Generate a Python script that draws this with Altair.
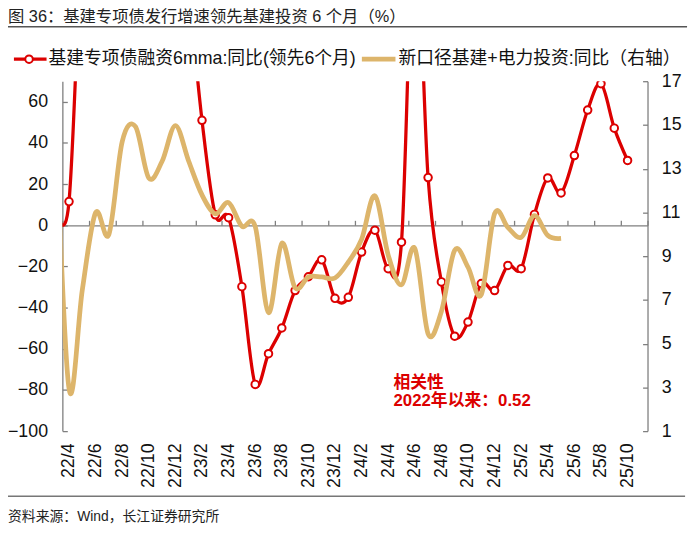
import json
import altair as alt
import pandas as pd

# ---------------- data ----------------
months = ["22/3", "22/4", "22/5", "22/6", "22/7", "22/8", "22/9", "22/10", "22/11", "22/12",
          "23/1", "23/2", "23/3", "23/4", "23/5", "23/6", "23/7", "23/8", "23/9", "23/10",
          "23/11", "23/12", "24/1", "24/2", "24/3", "24/4", "24/5", "24/6", "24/7", "24/8",
          "24/9", "24/10", "24/11", "24/12", "25/1", "25/2", "25/3", "25/4", "25/5", "25/6",
          "25/7", "25/8", "25/9", "25/10"]

# 基建专项债融资6mma:同比(领先6个月), left axis (22/3 .. 25/10)
red_values = [8, 11.5, 150, 260, 300, 290, 260, 240, 210, 180,
              115, 51.0, 5.1, 3.7, -29.8, -77.3, -62.4, -49.9, -31.7, -25.0,
              -16.8, -35.5, -35.0, -13.0, -2.4, -21.1, -8.2, 150, 23.2, -27.5,
              -53.9, -47.0, -28.3, -31.7, -19.5, -21.1, 5.3, 23.0, 15.7, 33.9,
              56.0, 68.8, 47.2, 31.5]

# 新口径基建+电力投资:同比, right axis (22/3 .. 25/5)
gold_values = [15.5, 2.95, 7.46, 10.99, 10.0, 14.24, 14.92, 12.57, 13.34, 14.97,
               13.34, 11.8, 10.94, 11.45, 10.37, 10.36, 6.42, 9.59, 7.55, 8.05,
               8.05, 8.0, 8.73, 9.77, 11.76, 9.05, 7.69, 9.36, 5.45, 6.47,
               9.27, 8.5, 7.24, 10.94, 10.31, 9.86, 10.85, 9.95, 9.81]

left_ticks = [-100, -80, -60, -40, -20, 0, 20, 40, 60]
right_ticks = [1, 3, 5, 7, 9, 11, 13, 15, 17]
series_names = ["基建专项债融资6mma:同比(领先6个月)", "新口径基建+电力投资:同比（右轴）"]
title_text = "图 36：基建专项债发行增速领先基建投资 6 个月（%）"
source_text = "资料来源：Wind，长江证券研究所"
note_lines = ["相关性", "2022年以来：0.52"]

# ---------------- layout / style ----------------
W, H = 592, 354
LEFT_DOMAIN = [-100, 70]
RIGHT_DOMAIN = [1, 17]
X_DOMAIN = [-0.5, len(months) - 0.5]
FONT = "Liberation Sans, Noto Sans CJK SC"
RED = "#DC0000"
GOLD = "#DDB56B"
GREY = "#7F7F7F"
TXT = "#111111"

idx = list(range(-1, len(months) - 1))
red_df = pd.DataFrame({"idx": idx, "month": months, "value": red_values})
gold_df = pd.DataFrame({"idx": idx[:len(gold_values)],
                        "month": months[:len(gold_values)],
                        "value": gold_values})
red_pts = red_df[red_df["idx"] >= 0]

xscale = alt.Scale(domain=X_DOMAIN, nice=False, zero=False)
lscale = alt.Scale(domain=LEFT_DOMAIN, nice=False, zero=False)
rscale = alt.Scale(domain=RIGHT_DOMAIN, nice=False, zero=False)

label_expr = json.dumps(months) + "[datum.value + 1]"
zero_offset = -(H * LEFT_DOMAIN[1] / (LEFT_DOMAIN[1] - LEFT_DOMAIN[0]))

x_label_axis = alt.Axis(orient="bottom", values=list(range(0, len(months) - 1, 2)),
                        labelExpr=label_expr, labelAngle=-90, ticks=False, tickSize=0,
                        domain=False, grid=False, labelPadding=12, labelFontSize=18,
                        labelFont=FONT, labelColor=TXT, labelFlush=False,
                        labelOverlap=False, title=None)
x_zero_axis = alt.Axis(orient="top", offset=zero_offset,
                       values=[k - 0.5 for k in range(0, len(months) + 1, 2)],
                       labels=False, ticks=True, tickSize=5, tickColor=GREY, tickWidth=1.3,
                       domain=True, domainColor=GREY, domainWidth=1.3, grid=False, title=None)
left_axis = alt.Axis(orient="left", values=left_ticks, ticks=False, tickSize=0, domain=True,
                     domainColor=GREY, domainWidth=1.3, grid=False, labelPadding=15,
                     labelFontSize=18, labelFont=FONT, labelColor=TXT, labelFlush=False,
                     title=None)
left_tick_axis = alt.Axis(orient="right", offset=-W, values=left_ticks, labels=False,
                          ticks=True, tickSize=5, tickColor=GREY, tickWidth=1.3,
                          domain=False, grid=False, title=None)
right_axis = alt.Axis(orient="right", values=right_ticks, ticks=False, tickSize=0, domain=True,
                      domainColor=GREY, domainWidth=1.3, grid=False, labelPadding=14,
                      labelFontSize=18, labelFont=FONT, labelColor=TXT, labelFlush=False,
                      title=None)
right_tick_axis = alt.Axis(orient="left", offset=-W, values=right_ticks, labels=False,
                           ticks=True, tickSize=5, tickColor=GREY, tickWidth=1.3,
                           domain=False, grid=False, title=None)

red_line = alt.Chart(red_df).mark_line(
    color=RED, strokeWidth=3.3, interpolate="cardinal", clip=True, strokeJoin="round"
).encode(
    x=alt.X("idx:Q", scale=xscale, axis=x_label_axis),
    y=alt.Y("value:Q", scale=lscale, axis=left_axis),
)

red_points = alt.Chart(red_pts).mark_point(
    shape="circle", fill="white", fillOpacity=1, stroke=RED, strokeWidth=2,
    size=58, opacity=1, clip=True
).encode(
    x=alt.X("idx:Q", scale=xscale, axis=x_zero_axis),
    y=alt.Y("value:Q", scale=lscale, axis=left_tick_axis),
)

gold_line = alt.Chart(gold_df).mark_line(
    color=GOLD, strokeWidth=4.8, interpolate="cardinal", clip=True, strokeJoin="round"
).encode(
    x=alt.X("idx:Q", scale=xscale, axis=None),
    y=alt.Y("value:Q", scale=rscale, axis=right_axis),
)

gold_ghost = alt.Chart(gold_df).mark_line(
    color=GOLD, strokeOpacity=0, clip=True
).encode(
    x=alt.X("idx:Q", scale=xscale, axis=None),
    y=alt.Y("value:Q", scale=rscale, axis=right_tick_axis),
)


def text_layer(t, x, y, size, color=TXT, weight="normal", baseline="middle"):
    return alt.Chart(alt.Data(values=[{"t": t}])).mark_text(
        align="left", baseline=baseline, font=FONT, fontSize=size,
        fontWeight=weight, color=color
    ).encode(text="t:N", x=alt.value(x), y=alt.value(y))


def rule_layer(x1, x2, y, color, width):
    return alt.Chart(alt.Data(values=[{"k": 0}])).mark_rule(
        color=color, strokeWidth=width
    ).encode(x=alt.value(x1), x2=alt.value(x2), y=alt.value(y))


title = text_layer(title_text, -55, -65, 16.5, color="#222222")
title_rule = rule_layer(-55, 632, -55, "#555555", 1.5)
source = text_layer(source_text, -55, 441, 14, color="#222222")
source_rule = rule_layer(-55, 630, 420, "#777777", 1.5)

leg_red_rule = rule_layer(-49, -16, -22.3, RED, 3.3)
leg_red_pt = alt.Chart(alt.Data(values=[{"k": 0}])).mark_point(
    shape="circle", fill="white", fillOpacity=1, stroke=RED, strokeWidth=2, size=58, opacity=1
).encode(x=alt.value(-33.7), y=alt.value(-22.3))
leg_red_txt = text_layer(series_names[0], -14, -22.3, 18)
leg_gold_rule = rule_layer(303, 337, -22.3, GOLD, 4.8)
leg_gold_txt = text_layer(series_names[1], 340, -22.3, 18)

note1 = text_layer(note_lines[0], 335, 310, 17, color=RED, weight="bold", baseline="alphabetic")
note2 = text_layer(note_lines[1], 335, 329, 17, color=RED, weight="bold", baseline="alphabetic")

chart = alt.layer(
    red_line, red_points, gold_line, gold_ghost,
    title, title_rule, source, source_rule,
    leg_red_rule, leg_red_pt, leg_red_txt, leg_gold_rule, leg_gold_txt,
    note1, note2,
).resolve_scale(
    y="independent"
).resolve_axis(
    x="independent", y="independent"
).properties(
    width=W, height=H,
    autosize=alt.AutoSizeParams(type="none"),
    padding={"left": 55, "top": 71, "right": 45, "bottom": 100},
    background="white",
).configure_view(stroke=None)

chart.save("out.html", embed_options={"renderer": "svg", "actions": False})
